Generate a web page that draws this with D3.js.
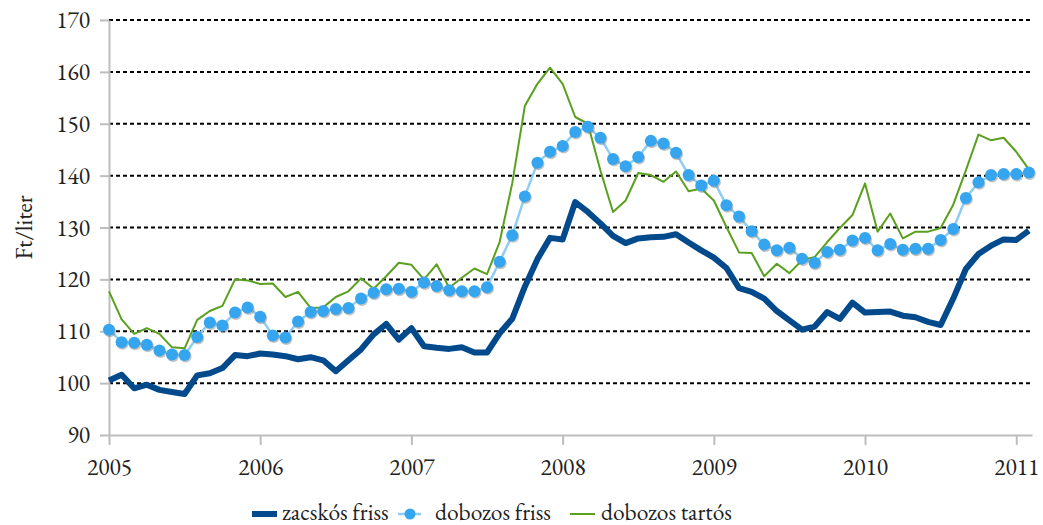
<!DOCTYPE html>
<html>
<head>
<meta charset="utf-8">
<script src="https://cdn.jsdelivr.net/npm/d3@7"></script>
<style>
  body { margin: 0; background: #fff; }
</style>
</head>
<body>
<script>
// havi adatok, 2005 jan - 2011 feb
const yearLabels = ["2005", "2006", "2007", "2008", "2009", "2010", "2011"]
const yTicks = [90, 100, 110, 120, 130, 140, 150, 160, 170]

const zacskosFriss = [
    100.5, 101.6, 99.0, 99.7, 98.7, 98.3, 97.9, 101.5, 101.9, 102.9,
    105.4, 105.2, 105.7, 105.5, 105.2, 104.6, 105.0, 104.4, 102.3, 104.4,
    106.5, 109.4, 111.4, 108.4, 110.6, 107.1, 106.8, 106.6, 106.9, 105.9,
    105.9, 109.6, 112.4, 118.6, 123.9, 128.0, 127.7, 134.9, 133.0, 130.8,
    128.4, 127.0, 127.9, 128.1, 128.2, 128.7, 127.1, 125.6, 124.2, 122.2,
    118.3, 117.6, 116.3, 113.9, 112.1, 110.3, 110.9, 113.7, 112.4, 115.5,
    113.6, 113.7, 113.8, 113.0, 112.7, 111.8, 111.2, 116.3, 122.0, 124.9,
    126.5, 127.7, 127.6, 129.4
]
const dobozosFriss = [
    110.3, 107.9, 107.8, 107.4, 106.3, 105.5, 105.4, 108.9, 111.7, 111.1,
    113.6, 114.6, 112.8, 109.2, 108.8, 111.9, 113.7, 113.9, 114.3, 114.5,
    116.3, 117.4, 118.1, 118.2, 117.6, 119.4, 118.7, 117.9, 117.7, 117.7,
    118.5, 123.4, 128.5, 136.0, 142.5, 144.6, 145.7, 148.4, 149.4, 147.3,
    143.2, 141.8, 143.6, 146.7, 146.2, 144.4, 140.1, 138.1, 139.0, 134.3,
    132.1, 129.3, 126.7, 125.6, 126.1, 124.0, 123.2, 125.3, 125.7, 127.5,
    128.0, 125.6, 126.8, 125.7, 125.9, 125.9, 127.6, 129.7, 135.7, 138.7,
    140.1, 140.3, 140.3, 140.6
]
const dobozosTartos = [
    117.7, 112.3, 109.5, 110.6, 109.5, 106.9, 106.7, 112.2, 113.9, 114.9,
    120.0, 119.8, 119.1, 119.2, 116.6, 117.6, 114.5, 114.6, 116.6, 117.7,
    120.2, 118.2, 120.6, 123.2, 122.8, 120.0, 122.9, 118.4, 120.3, 122.1,
    121.0, 127.2, 138.5, 153.4, 157.7, 160.8, 157.7, 151.3, 150.0, 141.0,
    133.0, 135.2, 140.5, 140.1, 138.8, 140.8, 137.0, 137.5, 135.2, 130.1,
    125.2, 125.1, 120.6, 123.0, 121.2, 123.7, 124.3, 127.2, 129.9, 132.4,
    138.5, 129.2, 132.7, 127.9, 129.2, 129.2, 129.9, 134.4, 141.0, 147.9,
    146.8, 147.3, 144.6, 141.2
]

const width = 1043
const height = 525
const plotLeft = 109
const plotRight = 1032
const plotTop = 20
const plotBottom = 435
const font = `"EB Garamond", "Liberation Serif", serif`
const fontSize = "23.5px"

const darkBlue = "#034a8c"
const dotBlue = "#35a5ef"
const lineBlue = "#8fcdf4"
const green = "#5aa01e"
const axisGray = "#bdbdbd"

const x = d3.scaleLinear().domain([0, 73.25]).range([plotLeft, plotRight])
const y = d3.scaleLinear().domain([90, 170]).range([plotBottom, plotTop])

const svg = d3.select("body")
    .append("svg")
    .attr("width", width)
    .attr("height", height)
    .attr("viewBox", [0, 0, width, height])

// dotted gridlines
svg.append("g")
    .selectAll("line")
    .data(yTicks.filter(d => d > 90))
    .enter()
    .append("line")
    .attr("x1", plotLeft)
    .attr("x2", plotRight)
    .attr("y1", d => y(d))
    .attr("y2", d => y(d))
    .attr("stroke", "#000")
    .attr("stroke-width", 2)
    .attr("stroke-dasharray", "4,3")

// y axis
const yAxis = svg.append("g")
    .attr("transform", `translate(${plotLeft},0)`)
    .call(d3.axisLeft(y).tickValues(yTicks).tickSize(9).tickSizeOuter(0).tickPadding(10))
yAxis.select(".domain").attr("stroke", axisGray).attr("stroke-width", 2)
yAxis.selectAll(".tick line").attr("stroke", axisGray).attr("stroke-width", 2)
yAxis.selectAll(".tick text")
    .style("font-family", font).style("font-size", fontSize).attr("fill", "#222")

// x axis
const xAxis = svg.append("g")
    .attr("transform", `translate(0,${plotBottom})`)
    .call(d3.axisBottom(x)
        .tickValues(yearLabels.map((d, i) => i * 12))
        .tickFormat((d, i) => yearLabels[i])
        .tickSize(10).tickSizeOuter(0).tickPadding(13))
xAxis.select(".domain").attr("stroke", axisGray).attr("stroke-width", 2)
xAxis.selectAll(".tick line").attr("stroke", axisGray).attr("stroke-width", 2)
xAxis.selectAll(".tick text")
    .style("font-family", font).style("font-size", fontSize).attr("fill", "#222")

svg.append("text")
    .attr("transform", `translate(23,${(plotTop + plotBottom) / 2}) rotate(-90)`)
    .attr("text-anchor", "middle")
    .attr("dominant-baseline", "central")
    .style("font-family", font)
    .style("font-size", fontSize)
    .attr("fill", "#222")
    .text("Ft/liter")

const line = d3.line().x((d, i) => x(i)).y(d => y(d))

svg.append("path")
    .attr("d", line(dobozosTartos))
    .attr("fill", "none")
    .attr("stroke", green)
    .attr("stroke-width", 2)
    .attr("stroke-linejoin", "round")

svg.append("path")
    .attr("d", line(dobozosFriss))
    .attr("fill", "none")
    .attr("stroke", lineBlue)
    .attr("stroke-width", 2.5)

svg.selectAll(".dotShadow")
    .data(dobozosFriss)
    .enter()
    .append("circle")
    .attr("cx", (d, i) => x(i) + 1)
    .attr("cy", d => y(d) + 1.5)
    .attr("r", 6)
    .attr("fill", "#777")
    .attr("opacity", 0.45)

svg.selectAll(".dot")
    .data(dobozosFriss)
    .enter()
    .append("circle")
    .attr("cx", (d, i) => x(i))
    .attr("cy", d => y(d))
    .attr("r", 6)
    .attr("fill", dotBlue)

svg.append("path")
    .attr("d", line(zacskosFriss))
    .attr("fill", "none")
    .attr("stroke", darkBlue)
    .attr("stroke-width", 6)
    .attr("stroke-linejoin", "round")

// legend
const ly = 514
const legendText = (lx, label) => svg.append("text")
    .attr("x", lx).attr("y", ly - 3)
    .attr("dominant-baseline", "central")
    .style("font-family", font).style("font-size", fontSize).attr("fill", "#222")
    .text(label)

svg.append("line").attr("x1", 252).attr("x2", 277).attr("y1", ly).attr("y2", ly)
    .attr("stroke", darkBlue).attr("stroke-width", 6)
legendText(282, "zacskós friss")

svg.append("line").attr("x1", 398).attr("x2", 421).attr("y1", ly).attr("y2", ly)
    .attr("stroke", lineBlue).attr("stroke-width", 2.5)
svg.append("circle").attr("cx", 410).attr("cy", ly).attr("r", 5.5).attr("fill", dotBlue)
legendText(435, "dobozos friss")

svg.append("line").attr("x1", 570).attr("x2", 595).attr("y1", ly).attr("y2", ly)
    .attr("stroke", green).attr("stroke-width", 2)
legendText(601, "dobozos tartós")
</script>
</body>
</html>
